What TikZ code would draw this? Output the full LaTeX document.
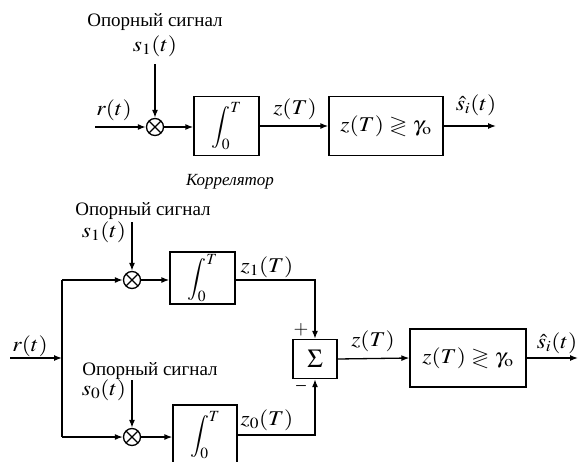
\documentclass[tikz,border=0pt]{standalone}
\usepackage{fix-cm}
\usepackage{mathptmx}
\usepackage{amssymb}
\usepackage{graphicx}
\usepackage{fontspec}
\setmainfont{Liberation Serif}
\usetikzlibrary{arrows.meta}
\newcommand\ml[1]{\scalebox{1.12}[1]{$#1$}}
\begin{document}
\begin{tikzpicture}[x=1pt,y=-1pt,
  every node/.style={font=\fontsize{19}{22}\selectfont, inner sep=0pt},
  wire/.style={line width=1.3pt},
  arr/.style={wire,-{Latex[length=8pt,width=6pt]}},
  blk/.style={draw, line width=1.3pt, rectangle},
  mult/.style={draw, line width=1.3pt, circle, minimum size=17pt,
    path picture={\draw[line width=1.2pt]
      ([shift={(-6pt,-6pt)}]path picture bounding box.center) -- ([shift={(6pt,6pt)}]path picture bounding box.center)
      ([shift={(-6pt,6pt)}]path picture bounding box.center) -- ([shift={(6pt,-6pt)}]path picture bounding box.center);}},
  lab/.style={},
  mlab/.style={font=\fontsize{21}{24}\selectfont},
  intg/.style={font=\fontsize{21}{25}\selectfont}
]
\useasboundingbox (0,0) rectangle (578,461);
\clip (0,0) rectangle (578,461);
% ---------- top: correlator ----------
\node[lab] (ref1) at (155,22) {Опорный сигнал};
\node[mlab] (s1a) at (155,46) {\ml{s_1(t)}};
\coordinate (s1top) at (155,64);
\node[mult] (m1) at (155,127) {};
\coordinate (in1) at (95,127);
\node[mlab] (r1) at (114,110) {\ml{r(t)}};
\node[blk, intg, minimum width=65pt, minimum height=59pt] (int1) at (226.5,126) {$\displaystyle\int_0^T$};
\node[blk, mlab, minimum width=114pt, minimum height=59pt] (dec1) at (386,126) {\ml{z(T)\gtrless\gamma_{\mathrm{o}}}};
\coordinate (out1) at (496,126);
\node[mlab] (z1lab) at (295,109) {\ml{z(T)}};
\node[mlab] (sh1) at (476,105) {\ml{\hat{s}_i(t)}};
\node[lab, font=\fontsize{17}{20}\selectfont\itshape] (corr) at (230,182) {Коррелятор};
\draw[arr] (in1) -- (m1.west);
\draw[arr] (s1top) -- (m1.north);
\draw[arr] (m1.east) -- (int1.west |- m1.east);
\draw[arr] (int1.east) -- (dec1.west);
\draw[arr] (dec1.east) -- (out1);
% ---------- bottom: two-branch receiver ----------
\coordinate (in2) at (10,358);
\coordinate (j) at (62,358);
\coordinate (jt) at (62,280);
\coordinate (jb) at (62,437);
\node[mlab] (r2) at (30,346) {\ml{r(t)}};
\node[lab] (ref2) at (143,211) {Опорный сигнал};
\node[mlab] (s1b) at (104,232) {\ml{s_1(t)}};
\coordinate (s1btop) at (132,222);
\node[mult] (m2) at (132,280) {};
\node[blk, intg, minimum width=65pt, minimum height=52pt] (int2) at (202.5,278) {$\displaystyle\int_0^T$};
\node[mlab] (z1t) at (267,267) {\ml{z_1(T)}};
\node[blk, minimum width=44pt, minimum height=39pt] (sum) at (315,359) {\fontsize{26}{28}\selectfont$\Sigma$};
\node[lab] (plus) at (301,330) {$+$};
\node[lab] (minus) at (301,388) {\textendash};
\node[lab] (ref3) at (150,371) {Опорный сигнал};
\node[mlab] (s0b) at (104,390) {\ml{s_0(t)}};
\coordinate (s0top) at (132,380);
\node[mult] (m3) at (132,437) {};
\node[blk, intg, minimum width=64pt, minimum height=60pt] (int3) at (205,435) {\raisebox{2pt}{$\displaystyle\int_0^T$}};
\node[mlab] (z0t) at (267,420) {\ml{z_0(T)}};
\coordinate (c1) at (315,280);
\coordinate (c0) at (315,435);
\node[blk, mlab, minimum width=116pt, minimum height=58pt] (dec2) at (468,358) {\ml{z(T)\gtrless\gamma_{\mathrm{o}}}};
\node[mlab] (z2lab) at (373,341) {\ml{z(T)}};
\coordinate (out2) at (578,358);
\node[mlab] (sh2) at (557,343) {\ml{\hat{s}_i(t)}};
\draw[arr] (in2) -- (j);
\draw[wire] (jt) -- (jb);
\draw[arr] (jt) -- (m2.west);
\draw[arr] (jb) -- (m3.west);
\draw[arr] (s1btop) -- (m2.north);
\draw[arr] (s0top) -- (m3.north);
\draw[arr] (m2.east) -- (int2.west |- m2.east);
\draw[arr] (m3.east) -- (int3.west |- m3.east);
\draw[arr] (int2.east |- c1) -- (c1) -- (sum.north);
\draw[arr] (int3.east |- c0) -- (c0) -- (sum.south);
\draw[arr] (sum.east) -- (dec2.west);
\draw[arr] (dec2.east) -- (out2);
\end{tikzpicture}
\end{document}
